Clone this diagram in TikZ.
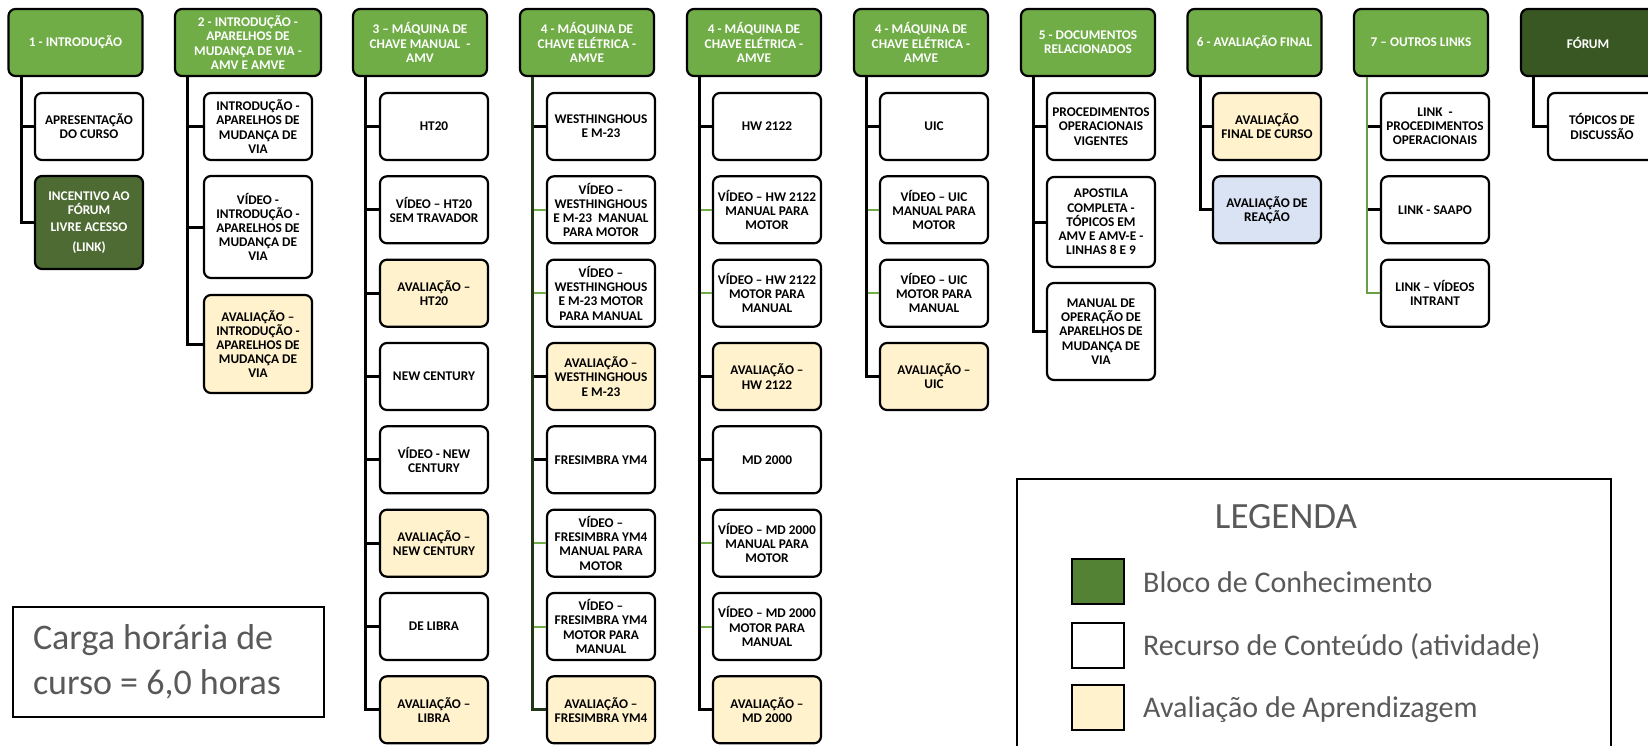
\documentclass[tikz,border=0pt]{standalone}
\usepackage{fontspec}
\setmainfont{Carlito}
\usepackage{graphicx}
\usetikzlibrary{calc}
\definecolor{hdrgreen}{HTML}{70AD47}
\definecolor{dkgreen}{HTML}{4E6B34}
\definecolor{forumgreen}{HTML}{385723}
\definecolor{leggreen}{HTML}{548235}
\definecolor{cream}{HTML}{FFF2CC}
\definecolor{paleblue}{HTML}{DAE3F3}
\definecolor{txtgray}{HTML}{595959}
\definecolor{trunkdark}{HTML}{22361A}
\definecolor{linkgreen}{HTML}{6A9E45}
\tikzset{
  box/.style={draw=black, line width=2.2pt, rounded corners=7pt, align=center, inner sep=1pt,
    font=\bfseries\fontsize{13.3}{14.2}\selectfont, text=black},
  hdr/.style={box, fill=hdrgreen, text=white, minimum width=134pt, minimum height=67pt},
  item/.style={box, fill=white, minimum width=108pt, minimum height=67pt},
  evalbox/.style={item, fill=cream},
  ln/.style={line width=3pt, black},
  gln/.style={line width=2pt, hdrgreen},
  legsq/.style={draw=black, line width=2pt, minimum width=52pt, minimum height=45pt, inner sep=0pt},
  legtxt/.style={anchor=base west, inner sep=0pt, text=txtgray, font=\fontsize{30}{36}\selectfont},
}
\begin{document}
\begin{tikzpicture}[x=1pt,y=-1pt]
\useasboundingbox (0,0) rectangle (1648,745);
\clip (0,0) rectangle (1648,745);

% ---------- column 1
\node[hdr] (h1) at (75.5,42.5) {1 - INTRODUÇÃO};
\node[item] (c1a) at (89,126.5) {APRESENTAÇÃO\\DO CURSO};
\node[item, fill=dkgreen, text=white, minimum height=93pt] (c1b) at (89,222.5)
  {INCENTIVO AO\\FÓRUM\\[3pt]LIVRE ACESSO\\[5pt](LINK)};
\coordinate (t1) at ($(h1.south west)+(14,0)$);
\draw[ln] (t1) |- (c1b.west);
\draw[ln] (t1 |- c1a.west) -- (c1a.west);

% ---------- column 2
\node[hdr, minimum width=146pt] (h2) at (248,42.5) {2 - INTRODUÇÃO -\\APARELHOS DE\\MUDANÇA DE VIA -\\AMV E AMVE};
\node[item] (c2a) at (258,126.5) {INTRODUÇÃO -\\APARELHOS DE\\MUDANÇA DE\\VIA};
\node[item, minimum height=102pt] (c2b) at (258,227) {VÍDEO -\\INTRODUÇÃO -\\APARELHOS DE\\MUDANÇA DE\\VIA};
\node[evalbox, minimum height=98pt] (c2c) at (258,344) {AVALIAÇÃO –\\INTRODUÇÃO -\\APARELHOS DE\\MUDANÇA DE\\VIA};
\coordinate (t2) at ($(h2.south west)+(14,0)$);
\draw[ln] (t2) |- (c2c.west);
\foreach \c in {c2a,c2b} \draw[ln] (t2 |- \c.west) -- (\c.west);

% ---------- column 3
\node[hdr] (h3) at (420,42.5) {3 – MÁQUINA DE\\CHAVE MANUAL\ \ -\\AMV};
\node[item] (c3a) at (434,126.5) {HT20};
\node[item] (c3b) at (434,209.8) {VÍDEO – HT20\\SEM TRAVADOR};
\node[evalbox] (c3c) at (434,293.2) {AVALIAÇÃO –\\HT20};
\node[item] (c3d) at (434,376.5) {NEW CENTURY};
\node[item] (c3e) at (434,459.8) {VÍDEO - NEW\\CENTURY};
\node[evalbox] (c3f) at (434,543.2) {AVALIAÇÃO –\\NEW CENTURY};
\node[item] (c3g) at (434,626.5) {DE LIBRA};
\node[evalbox] (c3h) at (434,709.8) {AVALIAÇÃO –\\LIBRA};
\coordinate (t3) at ($(h3.south west)+(14,0)$);
\draw[ln] (t3) |- (c3h.west);
\foreach \c in {c3a,c3b,c3c,c3d,c3e,c3f,c3g} \draw[ln] (t3 |- \c.west) -- (\c.west);

% ---------- column 4
\node[hdr] (h4) at (587,42.5) {4 - MÁQUINA DE\\CHAVE ELÉTRICA -\\AMVE};
\node[item] (c4a) at (601,126.5) {WESTHINGHOUS\\E M-23};
\node[item] (c4b) at (601,209.8) {VÍDEO –\\WESTHINGHOUS\\E M-23\ \ MANUAL\\PARA MOTOR};
\node[item] (c4c) at (601,293.2) {VÍDEO –\\WESTHINGHOUS\\E M-23 MOTOR\\PARA MANUAL};
\node[evalbox] (c4d) at (601,376.5) {AVALIAÇÃO –\\WESTHINGHOUS\\E M-23};
\node[item] (c4e) at (601,459.8) {FRESIMBRA YM4};
\node[item] (c4f) at (601,543.2) {VÍDEO –\\FRESIMBRA YM4\\MANUAL PARA\\MOTOR};
\node[item] (c4g) at (601,626.5) {VÍDEO –\\FRESIMBRA YM4\\MOTOR PARA\\MANUAL};
\node[evalbox] (c4h) at (601,709.8) {AVALIAÇÃO –\\FRESIMBRA YM4};
\coordinate (t4) at ($(h4.south west)+(14,0)$);
\foreach \c in {c4b,c4c,c4f,c4g} \draw[gln] (t4 |- \c.west) -- (\c.west);
\foreach \c in {c4a,c4d,c4e} \draw[ln] (t4 |- \c.west) -- (\c.west);
\draw[ln, trunkdark] (t4) |- (c4h.west);

% ---------- column 5
\node[hdr] (h5) at (754,42.5) {4 - MÁQUINA DE\\CHAVE ELÉTRICA -\\AMVE};
\node[item] (c5a) at (767,126.5) {HW 2122};
\node[item] (c5b) at (767,209.8) {VÍDEO – HW 2122\\MANUAL PARA\\MOTOR};
\node[item] (c5c) at (767,293.2) {VÍDEO – HW 2122\\MOTOR PARA\\MANUAL};
\node[evalbox] (c5d) at (767,376.5) {AVALIAÇÃO –\\HW 2122};
\node[item] (c5e) at (767,459.8) {MD 2000};
\node[item] (c5f) at (767,543.2) {VÍDEO – MD 2000\\MANUAL PARA\\MOTOR};
\node[item] (c5g) at (767,626.5) {VÍDEO – MD 2000\\MOTOR PARA\\MANUAL};
\node[evalbox] (c5h) at (767,709.8) {AVALIAÇÃO –\\MD 2000};
\coordinate (t5) at ($(h5.south west)+(14,0)$);
\foreach \c in {c5b,c5c,c5f,c5g} \draw[gln] (t5 |- \c.west) -- (\c.west);
\foreach \c in {c5a,c5d,c5e} \draw[ln] (t5 |- \c.west) -- (\c.west);
\draw[ln] (t5) |- (c5h.west);

% ---------- column 6
\node[hdr] (h6) at (921,42.5) {4 - MÁQUINA DE\\CHAVE ELÉTRICA -\\AMVE};
\node[item] (c6a) at (934,126.5) {UIC};
\node[item] (c6b) at (934,209.8) {VÍDEO – UIC\\MANUAL PARA\\MOTOR};
\node[item] (c6c) at (934,293.2) {VÍDEO – UIC\\MOTOR PARA\\MANUAL};
\node[evalbox] (c6d) at (934,376.5) {AVALIAÇÃO –\\UIC};
\coordinate (t6) at ($(h6.south west)+(14,0)$);
\foreach \c in {c6b,c6c} \draw[gln] (t6 |- \c.west) -- (\c.west);
\draw[ln] (t6 |- c6a.west) -- (c6a.west);
\draw[ln] (t6) |- (c6d.west);

% ---------- column 7
\node[hdr] (h7) at (1088,42.5) {5 - DOCUMENTOS\\RELACIONADOS};
\node[item] (c7a) at (1101,126.5) {PROCEDIMENTOS\\OPERACIONAIS\\VIGENTES};
\node[item, minimum height=90pt] (c7b) at (1101,222) {APOSTILA\\COMPLETA -\\TÓPICOS EM\\AMV E AMV-E -\\LINHAS 8 E 9};
\node[item, minimum height=97pt] (c7c) at (1101,331.5) {MANUAL DE\\OPERAÇÃO DE\\APARELHOS DE\\MUDANÇA DE\\VIA};
\coordinate (t7) at ($(h7.south west)+(14,0)$);
\draw[ln] (t7) |- (c7c.west);
\foreach \c in {c7a,c7b} \draw[ln] (t7 |- \c.west) -- (\c.west);

% ---------- column 8
\node[hdr] (h8) at (1254.5,42.5) {6 - AVALIAÇÃO FINAL};
\node[evalbox] (c8a) at (1267,126.5) {AVALIAÇÃO\\FINAL DE CURSO};
\node[item, fill=paleblue] (c8b) at (1267,209.8) {AVALIAÇÃO DE\\REAÇÃO};
\coordinate (t8) at ($(h8.south west)+(14,0)$);
\draw[ln] (t8) |- (c8b.west);
\draw[ln] (t8 |- c8a.west) -- (c8a.west);

% ---------- column 9
\node[hdr] (h9) at (1421,42.5) {7 – OUTROS LINKS};
\node[item] (c9a) at (1435,126.5) {LINK\ \ -\\PROCEDIMENTOS\\OPERACIONAIS};
\node[item] (c9b) at (1435,209.8) {LINK - SAAPO};
\node[item] (c9c) at (1435,293.2) {LINK – VÍDEOS\\INTRANT};
\coordinate (t9) at ($(h9.south west)+(14,0)$);
\foreach \c in {c9a,c9b} \draw[ln] (t9 |- \c.west) -- (\c.west);
\draw[line width=2.5pt, linkgreen] (t9) |- (c9c.west);

% ---------- column 10
\node[hdr, fill=forumgreen] (h10) at (1588,42.5) {FÓRUM};
\node[item] (c10a) at (1602,126.5) {TÓPICOS DE\\DISCUSSÃO};
\coordinate (t10) at ($(h10.south west)+(14,0)$);
\draw[ln] (t10) |- (c10a.west);

% ---------- workload box
\node[draw=black, line width=1.6pt, minimum width=311pt, minimum height=110pt, inner xsep=20pt,
  text width=271pt, align=flush left, text=txtgray, font=\fontsize{36}{45}\selectfont] (carga) at (168.5,662)
  {Carga horária de\\curso = 6,0 horas};

% ---------- legend
\draw[line width=1.3pt] (1017,479) rectangle (1611,800);
\node[anchor=base, inner sep=0pt, text=txtgray, font=\fontsize{37}{40}\selectfont] (legtitle) at (1286,528) {LEGENDA};
\node[legsq, fill=leggreen] (sq1) at (1097.5,581.5) {};
\node[legsq, fill=white] (sq2) at (1097.5,645) {};
\node[legsq, fill=cream] (sq3) at (1097.5,707.5) {};
\node[legtxt] (lt1) at (1143,592) {Bloco de Conhecimento};
\node[legtxt] (lt2) at (1143,655) {Recurso de Conteúdo (atividade)};
\node[legtxt] (lt3) at (1143,717) {Avaliação de Aprendizagem};
\end{tikzpicture}
\end{document}
